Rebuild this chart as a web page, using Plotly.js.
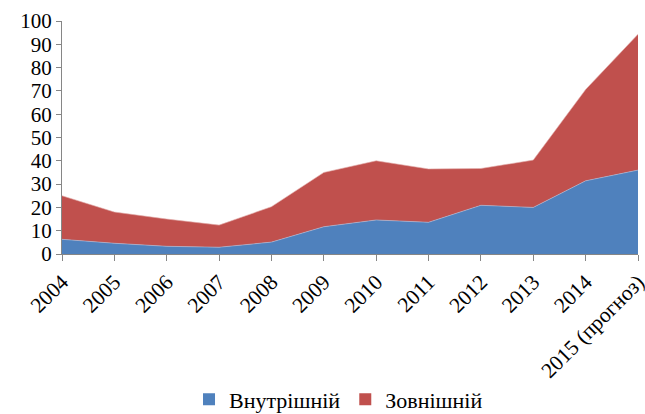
<!DOCTYPE html>
<html>
<head>
<meta charset="utf-8">
<script src="https://cdn.plot.ly/plotly-3.0.1.min.js"></script>
<style>html,body{margin:0;padding:0;background:#fff;}#chart{width:645px;height:414px;}</style>
</head>
<body>
<div id="chart"></div>
<script>
const categories = ['2004','2005','2006','2007','2008','2009','2010','2011','2012','2013','2014','2015 (прогноз)'];
const internal = [6.3, 4.6, 3.3, 2.9, 5.1, 11.7, 14.6, 13.6, 20.9, 20.0, 31.4, 36.0];
const external = [18.7, 13.4, 11.7, 9.5, 15.2, 23.3, 25.4, 22.9, 15.8, 20.3, 39.2, 58.3];
const seriesNames = ['Внутрішній', 'Зовнішній'];
const yTicks = [0,10,20,30,40,50,60,70,80,90,100];

function mkFont(size) {
  return {family: '"Liberation Serif", "Times New Roman", serif', color: '#000', size: size};
}
const BLUE = '#4F81BD', RED = '#C0504D';

const traces = [
  {x: categories, y: internal, name: seriesNames[0], type: 'scatter', mode: 'lines', stackgroup: 'one',
   fillcolor: BLUE, line: {width: 0.6, color: '#A9C0DF'}, showlegend: false},
  {x: categories, y: external, name: seriesNames[1], type: 'scatter', mode: 'lines', stackgroup: 'one',
   fillcolor: RED, line: {width: 0.6, color: '#E3AFAD'}, showlegend: false},
  // legend keys (square) for the two series
  {x: categories, y: internal, name: seriesNames[0], type: 'bar', marker: {color: BLUE}, visible: 'legendonly', showlegend: true},
  {x: categories, y: external, name: seriesNames[1], type: 'bar', marker: {color: RED}, visible: 'legendonly', showlegend: true}
];

const layout = {
  width: 645, height: 414,
  margin: {l: 62, r: 7, t: 21, b: 160, autoexpand: false},
  paper_bgcolor: '#fff', plot_bgcolor: '#fff',
  font: mkFont(21),
  showlegend: true,
  hovermode: false,
  xaxis: {type: 'category', range: [0, 11], showgrid: false, zeroline: false, automargin: false,
    showline: true, linecolor: '#868686', linewidth: 1,
    ticks: 'outside', ticklen: 6, tickcolor: '#868686', tickangle: -45,
    tickfont: mkFont(21.5)},
  yaxis: {range: [0, 100], tickvals: yTicks, showgrid: false, zeroline: false, automargin: false,
    showline: true, linecolor: '#868686', linewidth: 1,
    ticks: 'outside', ticklen: 5, tickcolor: '#868686', tickfont: mkFont(21)},
  legend: {orientation: 'h', x: 0.2205, xanchor: 'left', y: -0.624, yanchor: 'middle',
    font: mkFont(22), traceorder: 'normal', itemwidth: 30, itemclick: false, itemdoubleclick: false}
};

Plotly.newPlot('chart', traces, layout, {displayModeBar: false, staticPlot: true}).then(function (gd) {
  gd.querySelectorAll('.legend .traces').forEach(function (t) { t.style.opacity = 1; });
});
</script>
</body>
</html>
